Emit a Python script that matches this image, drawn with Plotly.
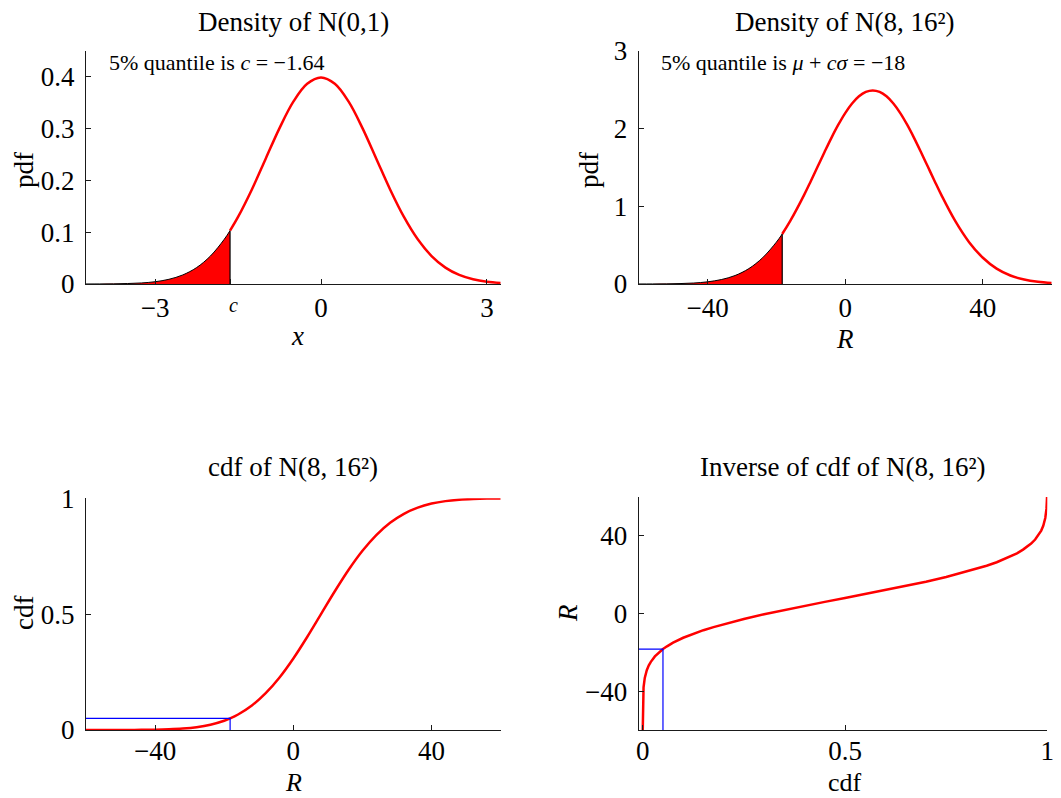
import plotly.graph_objects as go

# ---------------- data ----------------
# Panel 1: density of N(0,1); c = 5% quantile
C1 = -1.645
X1 = [-4.25, -4.0, -3.75, -3.5, -3.25, -3.0, -2.75, -2.5, -2.25, -2.0, -1.75, -1.645,
      -1.5, -1.25, -1.0, -0.75, -0.5, -0.25, 0.0, 0.25, 0.5, 0.75, 1.0, 1.25, 1.5,
      1.75, 2.0, 2.25, 2.5, 2.75, 3.0, 3.25]
PDF1 = [0.00005, 0.00013, 0.00035, 0.0009, 0.0020, 0.0044, 0.0091, 0.0175, 0.0317, 0.0540,
        0.0863, 0.1031, 0.1295, 0.1826, 0.2420, 0.3011, 0.3521, 0.3867, 0.3989, 0.3867,
        0.3521, 0.3011, 0.2420, 0.1826, 0.1295, 0.0863, 0.0540, 0.0317, 0.0175, 0.0091,
        0.0044, 0.0020]

# Panel 2: density of N(8,16^2) (scaled x100); 5% quantile -18.3
C2 = -18.3
R2 = [-60, -56, -52, -48, -44, -40, -36, -32, -28, -24, -20, -18.3, -16, -12, -10, -8, -6,
      -4, -2, 0, 2, 4, 6, 8, 10, 12, 14, 16, 18, 20, 22, 24, 26, 28, 32, 36, 40, 44, 48,
      52, 56, 60]
PDF2 = [0.0003, 0.0008, 0.0022, 0.0055, 0.0125, 0.028, 0.057, 0.109, 0.198, 0.338, 0.539,
        0.644, 0.809, 1.141, 1.324, 1.512, 1.700, 1.882, 2.051, 2.201, 2.324, 2.417, 2.474,
        2.493, 2.474, 2.417, 2.324, 2.201, 2.051, 1.882, 1.700, 1.512, 1.324, 1.141, 0.809,
        0.539, 0.338, 0.198, 0.109, 0.057, 0.028, 0.0125]

# Panel 3: cdf of N(8,16^2)
R3 = [-60, -56, -52, -48, -44, -40, -36, -32, -28, -24, -20, -18.3, -16, -12, -8, -4, 0, 4,
      8, 12, 16, 20, 24, 28, 32, 36, 40, 44, 48, 52, 56, 60]
CDF3 = [0.00001, 0.00003, 0.0001, 0.0002, 0.0006, 0.0013, 0.0030, 0.0062, 0.0122, 0.0228,
        0.0401, 0.05, 0.0668, 0.1056, 0.1587, 0.2266, 0.3085, 0.4013, 0.5, 0.5987, 0.6915,
        0.7734, 0.8413, 0.8944, 0.9332, 0.9599, 0.9772, 0.9878, 0.9938, 0.9970, 0.9987,
        0.9994]
Q_LEVEL = 0.05
Q_VALUE = -18.3

# Panel 4: inverse cdf of N(8,16^2)
P4 = [0.00001, 0.0001, 0.0005, 0.001, 0.002, 0.005, 0.0075, 0.01, 0.015, 0.02, 0.03, 0.04,
      0.05, 0.06, 0.075, 0.1, 0.125, 0.15, 0.175, 0.2, 0.25, 0.3, 0.35, 0.4, 0.45, 0.5,
      0.55, 0.6, 0.65, 0.7, 0.75, 0.8, 0.825, 0.85, 0.875, 0.9, 0.925, 0.94, 0.95, 0.96,
      0.97, 0.98, 0.985, 0.99, 0.9925, 0.995, 0.998, 0.999, 0.9994]
R4 = [-60.0, -51.5, -44.7, -41.4, -38.0, -33.2, -30.9, -29.2, -26.7, -24.9, -22.1, -20.0,
      -18.3, -16.9, -15.0, -12.5, -10.4, -8.6, -7.0, -5.5, -2.8, -0.4, 1.8, 3.9, 6.0, 8.0,
      10.0, 12.1, 14.2, 16.4, 18.8, 21.5, 23.0, 24.6, 26.4, 28.5, 31.0, 32.9, 34.3, 36.0,
      38.1, 40.9, 42.7, 45.2, 46.9, 49.2, 54.0, 57.4, 60.0]

TITLES = ["Density of N(0,1)", "Density of N(8, 16\u00b2)",
          "cdf of N(8, 16\u00b2)", "Inverse of cdf of N(8, 16\u00b2)"]

# ---------------- styling ----------------
W, H = 1061, 798
FONT = "Liberation Serif"
RED = "#ff0000"
BLUE = "#0000ff"
AX = "#1a1a1a"
TICK_FS = 27
LBL_FS = 27
TITLE_FS = 27
NOTE_FS = 22


def px(x):
    return x / W


def py(y):
    return 1 - y / H


fig = go.Figure()

# --- panel 1 ---
i1 = X1.index(C1)
fig.add_trace(go.Scatter(x=X1[:i1 + 1], y=PDF1[:i1 + 1], mode="lines", fill="tozeroy",
                         fillcolor=RED, line=dict(color="black", width=1, shape="spline"),
                         xaxis="x", yaxis="y", showlegend=False))
fig.add_trace(go.Scatter(x=[C1, C1], y=[0, PDF1[i1]], mode="lines",
                         line=dict(color="black", width=1.2), xaxis="x", yaxis="y",
                         showlegend=False))
fig.add_trace(go.Scatter(x=X1[i1:], y=PDF1[i1:], mode="lines",
                         line=dict(color=RED, width=2.5, shape="spline"),
                         xaxis="x", yaxis="y", showlegend=False))

# --- panel 2 ---
i2 = R2.index(C2)
fig.add_trace(go.Scatter(x=R2[:i2 + 1], y=PDF2[:i2 + 1], mode="lines", fill="tozeroy",
                         fillcolor=RED, line=dict(color="black", width=1, shape="spline"),
                         xaxis="x2", yaxis="y2", showlegend=False))
fig.add_trace(go.Scatter(x=[C2, C2], y=[0, PDF2[i2]], mode="lines",
                         line=dict(color="black", width=1.2), xaxis="x2", yaxis="y2",
                         showlegend=False))
fig.add_trace(go.Scatter(x=R2[i2:], y=PDF2[i2:], mode="lines",
                         line=dict(color=RED, width=2.5, shape="spline"),
                         xaxis="x2", yaxis="y2", showlegend=False))

# --- panel 3 ---
fig.add_trace(go.Scatter(x=R3, y=CDF3, mode="lines",
                         line=dict(color=RED, width=2.5, shape="spline"),
                         xaxis="x3", yaxis="y3", showlegend=False))
fig.add_trace(go.Scatter(x=[-60, Q_VALUE, Q_VALUE], y=[Q_LEVEL, Q_LEVEL, 0], mode="lines",
                         line=dict(color=BLUE, width=1.2), xaxis="x3", yaxis="y3",
                         showlegend=False))

# --- panel 4 ---
fig.add_trace(go.Scatter(x=P4, y=R4, mode="lines",
                         line=dict(color=RED, width=2.5),
                         xaxis="x4", yaxis="y4", showlegend=False))
fig.add_trace(go.Scatter(x=[-0.01, Q_LEVEL, Q_LEVEL], y=[Q_VALUE, Q_VALUE, -60], mode="lines",
                         line=dict(color=BLUE, width=1.2), xaxis="x4", yaxis="y4",
                         showlegend=False))


def axis(domain, rng, tickvals, ticktext=None, anchor=None):
    d = dict(domain=domain, range=rng, tickvals=tickvals, showgrid=False, zeroline=False,
             showline=True, linecolor=AX, linewidth=1, ticks="inside", ticklen=5,
             tickcolor=AX, tickwidth=1, mirror=False, anchor=anchor, automargin=False,
             tickfont=dict(family=FONT, size=TICK_FS, color="black"), fixedrange=True)
    if ticktext is not None:
        d["ticktext"] = ticktext
    return d


L1, R1e = px(86), px(500.7)
L2, R2e = px(638.7), px(1051.7)
R4e = px(1047.3)
TOP_T, BOT_T = py(51), py(284)
TOP_B3, BOT_B = py(498.3), py(730)
TOP_B4 = py(497)

fig.update_layout(
    template="none",
    width=W, height=H,
    margin=dict(l=0, r=0, t=0, b=0, pad=0),
    paper_bgcolor="white", plot_bgcolor="white",
    showlegend=False,
    font=dict(family=FONT, color="black"),
    xaxis=axis([L1, R1e], [-4.25, 3.25], [-3, C1, 0, 3], ["\u22123", "", "0", "3"], "y"),
    yaxis=axis([BOT_T, TOP_T], [0, 0.45], [0, 0.1, 0.2, 0.3, 0.4], None, "x"),
    xaxis2=axis([L2, R2e], [-60, 60], [-40, 0, 40], None, "y2"),
    yaxis2=axis([BOT_T, TOP_T], [0, 3], [0, 1, 2, 3], None, "x2"),
    xaxis3=axis([L1, R1e], [-60, 60], [-40, 0, 40], None, "y3"),
    yaxis3=axis([BOT_B, TOP_B3], [0, 1], [0, 0.5, 1], None, "x3"),
    xaxis4=axis([L2, R4e], [-0.01, 1.0], [0, 0.5, 1], None, "y4"),
    yaxis4=axis([BOT_B, TOP_B4], [-60, 60], [-40, 0, 40], None, "x4"),
)
for k in ["yaxis", "yaxis2", "yaxis3", "yaxis4"]:
    fig.layout[k].ticklabelstandoff = 5
for k in ["xaxis3", "xaxis4"]:
    fig.layout[k].ticklabelstandoff = -3

ann = []


def txt(x, y, text, size, angle=0, xanchor="center", italic=False, yanchor="middle",
        borderpad=1):
    ann.append(dict(x=px(x), y=py(y), xref="paper", yref="paper", text=text,
                    showarrow=False, textangle=angle, xanchor=xanchor, yanchor=yanchor,
                    borderpad=borderpad,
                    font=dict(family=FONT, size=size, color="black",
                              style="italic" if italic else "normal")))


# titles
txt(293, 22, TITLES[0], TITLE_FS)
txt(845, 22, TITLES[1], TITLE_FS)
txt(293, 467, TITLES[2], TITLE_FS)
txt(843, 467, TITLES[3], TITLE_FS)
# notes
txt(107, 62, "5% quantile is <i>c</i> = \u22121.64", NOTE_FS, xanchor="left")
txt(659, 62, "5% quantile is <i>\u03bc</i> + <i>c\u03c3</i> = \u221218", NOTE_FS, xanchor="left")
# tick label "c" for the quantile tick in panel 1
txt(233, 305, "c", 20, italic=True)
# axis labels
txt(24, 170, "pdf", LBL_FS, -90)
txt(589, 170, "pdf", LBL_FS, -90)
txt(297, 336, "x", LBL_FS, italic=True)
txt(845, 339, "R", LBL_FS, italic=True)
txt(24, 613, "cdf", LBL_FS, -90)
txt(293, 798, "R", 26, italic=True, yanchor="bottom", borderpad=0)
txt(568, 613, "R", LBL_FS, -90, italic=True)
txt(845, 798, "cdf", 26, yanchor="bottom", borderpad=0)
fig.update_layout(annotations=ann)

fig.write_html("out.html")
